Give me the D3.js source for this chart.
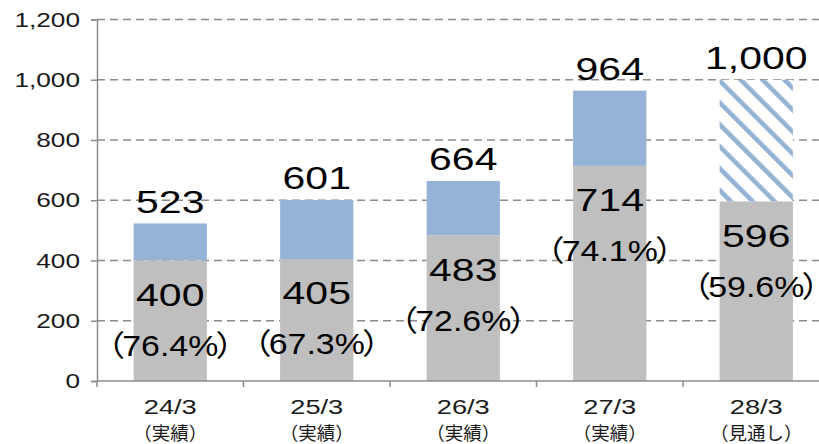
<!DOCTYPE html>
<html>
<head>
<meta charset="utf-8">
<script src="https://cdn.jsdelivr.net/npm/d3@7"></script>
<style>
  html, body { margin: 0; padding: 0; background: #fff; }
  svg { display: block; }
</style>
</head>
<body>
<div id="chart"></div>
<script>
// fiscal year categories
const periods = ['24/3', '25/3', '26/3', '27/3', '28/3'];
const periodNotes = ['（実績）', '（実績）', '（実績）', '（実績）', '（見通し）'];
// totals and the lower (gray) part
const totals = [523, 601, 664, 964, 1000];
const lower = [400, 405, 483, 714, 596];
const ratios = ['76.4%', '67.3%', '72.6%', '74.1%', '59.6%'];
const forecast = [false, false, false, false, true];
const yTicks = [0, 200, 400, 600, 800, 1000, 1200];

const width = 819, height = 444;
const plotLeft = 97, plotTop = 19.5, plotBottom = 381;
const step = 146.5;

const svg = d3.select('#chart').append('svg')
  .attr('width', width)
  .attr('height', height);

const defs = svg.append('defs');
const pat = defs.append('pattern')
  .attr('id', 'hatch')
  .attr('patternUnits', 'userSpaceOnUse')
  .attr('width', 15.5)
  .attr('height', 15.5)
  .attr('patternTransform', 'rotate(-45)');
pat.append('rect').attr('width', 15.5).attr('height', 15.5).attr('fill', '#fff');
pat.append('rect').attr('width', 4.6).attr('height', 15.5).attr('fill', '#95b3d7');

const x = d3.scaleBand()
  .domain(periods)
  .range([plotLeft, plotLeft + step * periods.length])
  .paddingInner(0.5)
  .paddingOuter(0.25);

const y = d3.scaleLinear()
  .domain([0, 1200])
  .range([plotBottom, plotTop]);

const numFont = '"Liberation Sans", Arial, sans-serif';
const jpFont = '"Noto Sans CJK JP", sans-serif';

// wide text: the original font is much wider than anything installed
function wideText(sel, px, py, sx) {
  return sel.append('g')
    .attr('transform', d => `translate(${px(d)},${py(d)}) scale(${sx},1)`)
    .append('text')
      .attr('text-anchor', 'middle');
}

// gridlines
svg.append('g')
  .selectAll('line')
  .data(yTicks.filter(d => d > 0))
  .enter().append('line')
    .attr('x1', plotLeft).attr('x2', width)
    .attr('y1', d => y(d)).attr('y2', d => y(d))
    .attr('stroke', '#8c8c8c')
    .attr('stroke-width', 1.5)
    .attr('stroke-dasharray', '8,5');

// y axis
const yAxis = svg.append('g')
  .attr('transform', `translate(${plotLeft},0)`)
  .call(d3.axisLeft(y).tickValues(yTicks).tickSize(6).tickFormat(d3.format(',')));
yAxis.select('.domain').attr('stroke', '#8c8c8c').attr('stroke-width', 1.5);
yAxis.selectAll('.tick line').attr('stroke', '#8c8c8c').attr('stroke-width', 1.5);
yAxis.selectAll('.tick text')
  .attr('x', -17 / 1.28)
  .attr('transform', 'scale(1.28,1)')
  .attr('font-family', numFont)
  .attr('font-size', 20.5)
  .attr('fill', '#1a1a1a');

const bars = svg.append('g')
  .selectAll('g')
  .data(periods.map((p, i) => ({p, i})))
  .enter().append('g');

// upper part
bars.append('rect')
  .attr('x', d => x(d.p))
  .attr('width', x.bandwidth())
  .attr('y', d => y(totals[d.i]))
  .attr('height', d => y(lower[d.i]) - y(totals[d.i]))
  .attr('fill', d => forecast[d.i] ? 'url(#hatch)' : '#95b3d7');

// lower part
bars.append('rect')
  .attr('x', d => x(d.p))
  .attr('width', x.bandwidth())
  .attr('y', d => y(lower[d.i]))
  .attr('height', d => y(0) - y(lower[d.i]))
  .attr('fill', '#bfbfbf');

// x axis line and boundary ticks
svg.append('line')
  .attr('x1', plotLeft).attr('x2', width)
  .attr('y1', plotBottom).attr('y2', plotBottom)
  .attr('stroke', '#8c8c8c').attr('stroke-width', 1.5);
svg.append('g')
  .selectAll('line')
  .data(periods)
  .enter().append('line')
    .attr('x1', d => x(d) - x.step() * 0.25)
    .attr('x2', d => x(d) - x.step() * 0.25)
    .attr('y1', plotBottom).attr('y2', plotBottom + 6)
    .attr('stroke', '#8c8c8c').attr('stroke-width', 1.5);

const cx = d => x(d.p) + x.bandwidth() / 2;

// category labels
wideText(bars, cx, () => 414, 1.33)
  .attr('font-family', numFont)
  .attr('font-size', 20.5)
  .attr('fill', '#1a1a1a')
  .text(d => d.p);
bars.append('text')
  .attr('x', cx)
  .attr('y', 439.5)
  .attr('text-anchor', 'middle')
  .attr('font-family', jpFont)
  .attr('font-size', 18.5)
  .attr('fill', '#1a1a1a')
  .text(d => periodNotes[d.i]);

// total labels
wideText(bars, cx, d => y(totals[d.i]) - 10.5, 1.3)
  .attr('font-family', numFont)
  .attr('font-size', 31.5)
  .attr('fill', '#000')
  .text(d => d3.format(',')(totals[d.i]));

// lower value labels
wideText(bars, cx, d => y(lower[d.i]) + 45.5, 1.3)
  .attr('font-family', numFont)
  .attr('font-size', 31.5)
  .attr('fill', '#000')
  .text(d => lower[d.i]);

// ratio labels (full-width brackets pulled in a little)
const rt = wideText(bars, cx, d => y(lower[d.i]) + 95.5, 1.15)
  .attr('font-size', 29.5)
  .attr('fill', '#000');
rt.append('tspan').attr('font-family', jpFont).text('（');
rt.append('tspan').attr('font-family', numFont).attr('dx', -2.5).text(d => ratios[d.i]);
rt.append('tspan').attr('font-family', jpFont).attr('dx', -2.5).text('）');
</script>
</body>
</html>
